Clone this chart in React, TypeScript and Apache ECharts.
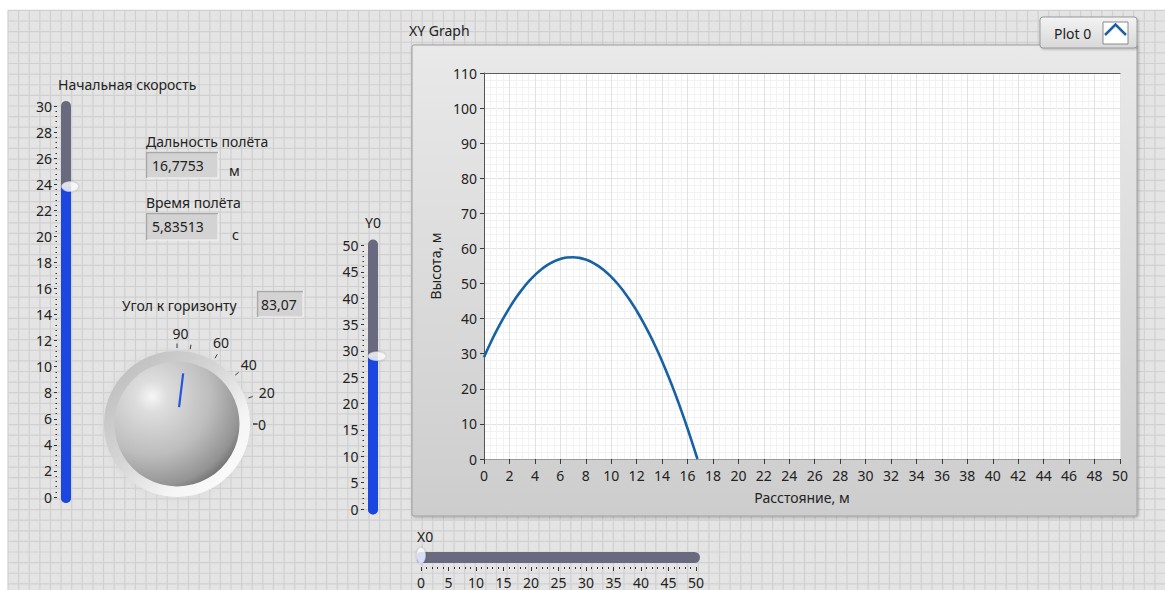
import React, { useEffect, useRef } from "react";
import * as echarts from "echarts";

// ---------------- data ----------------
const distanceM = [
  0, 0.5, 1, 1.5, 2, 2.5, 3, 3.5, 4, 4.5, 5, 5.5, 6, 6.5, 7, 7.5, 8, 8.5, 9, 9.5,
  10, 10.5, 11, 11.5, 12, 12.5, 13, 13.5, 14, 14.5, 15, 15.5, 16, 16.5, 16.78,
];
const heightM = [
  29.0, 32.97, 36.63, 40.0, 43.08, 45.86, 48.34, 50.52, 52.41, 54.0, 55.3, 56.29,
  57.0, 57.4, 57.51, 57.32, 56.83, 56.05, 54.97, 53.59, 51.92, 49.95, 47.68, 45.12,
  42.26, 39.1, 35.65, 31.9, 27.85, 23.51, 18.87, 13.93, 8.7, 3.16, 0,
];
const plotName = "Plot 0";
const initialSpeed = [23.82];
const startHeight = [29.0];
const startX = [0];
const launchAngle = [83.07];
const rangeText = "16,7753";
const timeText = "5,83513";
const angleText = "83,07";
const speedCategory = ["v0"];
const y0Category = ["Y0"];
const x0Category = ["X0"];

// ---------------- styling ----------------
const FONT = '"Noto Sans", "Open Sans", sans-serif';
const TXT = "#222222";
const BLUE = "#1c46e0";
const TRACK = "#69697f";
const STEP = 10.62;

function txt(text: string, x: number, y: number, extra: any = {}) {
  return {
    type: "text",
    x,
    y,
    z: -5,
    silent: true,
    style: {
      text,
      fill: TXT,
      fontSize: 14,
      fontFamily: FONT,
      verticalAlign: "middle",
      align: "left",
      ...extra,
    },
  };
}

function numBox(x: number, y: number, w: number, h: number) {
  return [
    {
      type: "rect",
      z: -6,
      silent: true,
      shape: { x, y, width: w, height: h },
      style: { fill: "#d3d3d3", stroke: "#f4f4f4", lineWidth: 1 },
    },
    {
      type: "polyline",
      z: -6,
      silent: true,
      shape: { points: [[x + 0.5, y + h], [x + 0.5, y + 0.5], [x + w, y + 0.5]] },
      style: { stroke: "#a9a9a9", lineWidth: 1.5, fill: null },
    },
  ];
}

function buildGraphic() {
  const els: any[] = [];
  els.push({
    type: "rect",
    z: -30,
    silent: true,
    shape: { x: 8, y: 10, width: 1157, height: 580 },
    style: { fill: "#e4e4e4" },
  });
  for (let x = 8; x < 1165; x += STEP) {
    els.push({
      type: "line",
      z: -29,
      silent: true,
      shape: { x1: x, y1: 10, x2: x, y2: 590 },
      style: { stroke: "#d0d0d0", lineWidth: 1.2 },
    });
  }
  for (let y = 10.4; y < 590; y += STEP) {
    els.push({
      type: "line",
      z: -29,
      silent: true,
      shape: { x1: 8, y1: y, x2: 1165, y2: y },
      style: { stroke: "#d0d0d0", lineWidth: 1.2 },
    });
  }
  // XY graph frame
  els.push({
    type: "rect",
    z: -10,
    silent: true,
    shape: { x: 412, y: 45, width: 725, height: 471, r: 2 },
    style: {
      fill: new echarts.graphic.LinearGradient(0, 0, 0, 1, [
        { offset: 0, color: "#e9e9e9" },
        { offset: 1, color: "#cdcdcd" },
      ]),
      stroke: "#a0a0a0",
      lineWidth: 1,
      shadowBlur: 3,
      shadowOffsetX: 1,
      shadowOffsetY: 1,
      shadowColor: "rgba(0,0,0,0.3)",
    },
  });
  // legend box
  els.push({
    type: "rect",
    z: -9,
    silent: true,
    shape: { x: 1040, y: 17, width: 97, height: 31, r: 3 },
    style: {
      fill: new echarts.graphic.LinearGradient(0, 0, 0, 1, [
        { offset: 0, color: "#f3f3f3" },
        { offset: 1, color: "#d8d8d8" },
      ]),
      stroke: "#9a9a9a",
      lineWidth: 1,
      shadowBlur: 2,
      shadowOffsetX: 1,
      shadowOffsetY: 1,
      shadowColor: "rgba(0,0,0,0.25)",
    },
  });
  els.push({
    type: "rect",
    z: -8,
    silent: true,
    shape: { x: 1103, y: 22, width: 25, height: 22 },
    style: { fill: "#ffffff", stroke: "#8a8a8a", lineWidth: 1 },
  });
  els.push({
    type: "polyline",
    z: -7,
    silent: true,
    shape: { points: [[1105, 35], [1115.5, 24.5], [1126, 35]] },
    style: { stroke: "#1d5fa8", lineWidth: 2.5, fill: null },
  });
  els.push(txt(plotName, 1054, 33));
  els.push(txt("XY Graph", 409, 30));

  // labels & numeric indicators
  els.push(txt("Начальная скорость", 58, 84));
  els.push(txt("Дальность полёта", 146, 141));
  els.push(...numBox(146, 152, 72, 26));
  els.push(txt(rangeText, 152, 165));
  els.push(txt("м", 229, 170));
  els.push(txt("Время полёта", 146, 202));
  els.push(...numBox(146, 213, 72, 27));
  els.push(txt(timeText, 152, 226));
  els.push(txt("с", 232, 234));
  els.push(txt("Угол к горизонту", 122, 305));
  els.push(...numBox(257, 291, 46, 26));
  els.push(txt(angleText, 261, 304));
  els.push(txt("Y0", 365, 222));
  els.push(txt("X0", 417, 536));

  // slider tracks
  els.push({
    type: "rect", z: -6, silent: true,
    shape: { x: 61, y: 101, width: 10, height: 402, r: 5 },
    style: { fill: TRACK },
  });
  els.push({
    type: "rect", z: -5, silent: true,
    shape: { x: 61, y: 490, width: 10, height: 13, r: 5 },
    style: { fill: BLUE },
  });
  els.push({
    type: "rect", z: -6, silent: true,
    shape: { x: 368, y: 239.5, width: 10, height: 275, r: 5 },
    style: { fill: TRACK },
  });
  els.push({
    type: "rect", z: -5, silent: true,
    shape: { x: 368, y: 501, width: 10, height: 13.5, r: 5 },
    style: { fill: BLUE },
  });
  els.push({
    type: "rect", z: -6, silent: true,
    shape: { x: 417, y: 552, width: 283, height: 11, r: 5.5 },
    style: { fill: TRACK },
  });
  els.push({
    type: "rect", z: -5, silent: true,
    shape: { x: 417, y: 552, width: 8, height: 11, r: 5.5 },
    style: { fill: BLUE },
  });

  // knob halo and sphere
  els.push({
    type: "circle", z: -7, silent: true,
    shape: { cx: 177, cy: 424, r: 73 },
    style: {
      fill: new echarts.graphic.LinearGradient(0, 0, 1, 1, [
        { offset: 0, color: "#b8b8b8" },
        { offset: 0.45, color: "#d6d6d6" },
        { offset: 0.7, color: "#f4f4f4" },
        { offset: 1, color: "#ffffff" },
      ]),
      shadowBlur: 12,
      shadowColor: "rgba(215,215,215,0.95)",
    },
  });
  els.push({
    type: "circle", z: -6, silent: true,
    shape: { cx: 177, cy: 424, r: 62.5 },
    style: {
      fill: new echarts.graphic.RadialGradient(0.3, 0.28, 0.85, [
        { offset: 0, color: "#f6f6f6" },
        { offset: 0.15, color: "#dddddd" },
        { offset: 0.55, color: "#bdbdbd" },
        { offset: 0.85, color: "#939393" },
        { offset: 1, color: "#5e5e5e" },
      ]),
    },
  });
  return els;
}

const axisText = { color: TXT, fontSize: 14, fontFamily: FONT };

function buildOption(): any {
  const xyData = distanceM.map((d, i) => [d, heightM[i]]);
  const richBase = { fontSize: 14, fontFamily: FONT, color: TXT };
  return {
    animation: false,
    backgroundColor: "#ffffff",
    graphic: { elements: buildGraphic() },
    grid: [
      { left: 484, top: 73, width: 636, height: 386, show: true, backgroundColor: "#ffffff", borderWidth: 0 },
      { left: 61, top: 106, width: 10, height: 391 },
      { left: 368, top: 245.5, width: 10, height: 263.5 },
      { left: 421, top: 552, width: 275, height: 11 },
    ],
    xAxis: [
      {
        gridIndex: 0, type: "value", min: 0, max: 50, interval: 2,
        name: "Расстояние, м", nameLocation: "middle", nameGap: 31,
        nameTextStyle: { ...axisText },
        axisLine: { show: true, lineStyle: { color: "#9a9a9a" } },
        axisTick: { show: true, length: 5, lineStyle: { color: "#3a3a3a" } },
        axisLabel: { ...axisText, margin: 9 },
        splitLine: { show: true, lineStyle: { color: "#e2e2e2" } },
        minorTick: { show: false, splitNumber: 4 },
        minorSplitLine: { show: true, lineStyle: { color: "#f2f2f2" } },
      },
      {
        gridIndex: 0, type: "value", position: "top", min: 0, max: 50,
        axisLine: { show: true, lineStyle: { color: "#5a5a5a" } },
        axisTick: { show: false }, axisLabel: { show: false }, splitLine: { show: false },
      },
      { gridIndex: 1, type: "category", data: speedCategory, show: false },
      { gridIndex: 2, type: "category", data: y0Category, show: false },
      {
        gridIndex: 3, type: "value", min: 0, max: 50, interval: 5, position: "bottom", offset: 4,
        axisLine: { show: false },
        axisTick: { show: true, length: 4, lineStyle: { color: "#333" } },
        minorTick: { show: true, splitNumber: 5, length: 2, lineStyle: { color: "#333" } },
        axisLabel: { ...axisText, margin: 8 },
        splitLine: { show: false },
      },
    ],
    yAxis: [
      {
        gridIndex: 0, type: "value", min: 0, max: 110, interval: 10,
        name: "Высота, м", nameLocation: "middle", nameGap: 37, nameRotate: 90,
        nameTextStyle: { ...axisText },
        axisLine: { show: true, lineStyle: { color: "#555555" } },
        axisTick: { show: true, length: 4, lineStyle: { color: "#3a3a3a" } },
        axisLabel: { ...axisText, margin: 7 },
        splitLine: { show: true, lineStyle: { color: "#e2e2e2" } },
        minorTick: { show: false, splitNumber: 5 },
        minorSplitLine: { show: true, lineStyle: { color: "#f2f2f2" } },
      },
      {
        gridIndex: 1, type: "value", min: 0, max: 30, interval: 2, offset: 4,
        axisLine: { show: false },
        axisTick: { show: true, length: 3, lineStyle: { color: "#333" } },
        minorTick: { show: true, splitNumber: 5, length: 1.5, lineStyle: { color: "#333" } },
        axisLabel: { ...axisText, margin: 5 },
        splitLine: { show: false },
      },
      {
        gridIndex: 2, type: "value", min: 0, max: 50, interval: 5, offset: 4,
        axisLine: { show: false },
        axisTick: { show: true, length: 3, lineStyle: { color: "#333" } },
        minorTick: { show: true, splitNumber: 5, length: 1.5, lineStyle: { color: "#333" } },
        axisLabel: { ...axisText, margin: 5.5 },
        splitLine: { show: false },
      },
      { gridIndex: 3, type: "category", data: x0Category, show: false },
    ],
    series: [
      {
        name: plotName, type: "line", xAxisIndex: 0, yAxisIndex: 0, data: xyData,
        showSymbol: false, smooth: true,
        lineStyle: { color: "#1662a4", width: 2.6 },
        itemStyle: { color: "#1662a4" },
      },
      {
        type: "bar", xAxisIndex: 2, yAxisIndex: 1, data: initialSpeed, barWidth: 10,
        itemStyle: { color: BLUE },
      },
      {
        type: "scatter", xAxisIndex: 2, yAxisIndex: 1, data: initialSpeed, z: 4,
        symbol: "circle", symbolSize: [17, 10], symbolOffset: [4, 0],
        itemStyle: { color: "#ffffff", borderColor: "#c4c4c4", borderWidth: 0.6, shadowBlur: 2, shadowColor: "rgba(0,0,0,0.25)" },
      },
      {
        type: "bar", xAxisIndex: 3, yAxisIndex: 2, data: startHeight, barWidth: 10,
        itemStyle: { color: BLUE },
      },
      {
        type: "scatter", xAxisIndex: 3, yAxisIndex: 2, data: startHeight, z: 4,
        symbol: "circle", symbolSize: [18, 9], symbolOffset: [4, 0],
        itemStyle: { color: "#ffffff", borderColor: "#c4c4c4", borderWidth: 0.6, shadowBlur: 2, shadowColor: "rgba(0,0,0,0.25)" },
      },
      {
        type: "bar", xAxisIndex: 4, yAxisIndex: 3, data: startX, barWidth: 11,
        itemStyle: { color: BLUE },
      },
      {
        type: "scatter", xAxisIndex: 4, yAxisIndex: 3, data: startX.map((v) => [v, 0]), z: 4,
        symbol: "circle", symbolSize: [9, 16], symbolOffset: [0, -2],
        itemStyle: { color: "#ffffff", borderColor: "#c4c4c4", borderWidth: 0.6, shadowBlur: 2, shadowColor: "rgba(0,0,0,0.25)" },
      },
      {
        type: "gauge", center: [177, 424], radius: 80.5,
        startAngle: 0, endAngle: 80, clockwise: false, min: 0, max: 80, splitNumber: 4,
        axisLine: { show: false, lineStyle: { width: 0 } },
        progress: { show: false }, pointer: { show: false }, anchor: { show: false },
        axisTick: { show: false },
        splitLine: { show: true, length: 4.5, distance: 0, lineStyle: { color: "#3a3a3a", width: 1 } },
        axisLabel: {
          distance: -28, ...axisText,
          formatter: (v: number) =>
            v === 0 ? "{z|0}" : v === 20 ? "{a|20}" : v === 40 ? "{b|40}" : v === 60 ? "{c|60}" : "",
          rich: {
            z: { ...richBase, padding: [0, 15, 0, 0] },
            a: { ...richBase, padding: [8, 0, 0, 0] },
            b: { ...richBase, padding: [14, 0, 0, 0] },
            c: { ...richBase, padding: [2, 0, 0, 10] },
          },
        },
        title: { show: false }, detail: { show: false },
        data: [{ value: 0 }],
      },
      {
        type: "gauge", center: [177, 424], radius: 80.5,
        startAngle: 0, endAngle: 90, clockwise: false, min: 0, max: 90, splitNumber: 1,
        axisLine: { show: false, lineStyle: { width: 0 } },
        progress: { show: false }, anchor: { show: false },
        axisTick: { show: false },
        splitLine: { show: true, length: 4.5, distance: 0, lineStyle: { color: "#3a3a3a", width: 1 } },
        axisLabel: {
          distance: -22, ...axisText,
          formatter: (v: number) => (v === 90 ? "{n|90}" : ""),
          rich: { n: { ...richBase, padding: [0, 0, 0, 7] } },
        },
        pointer: {
          show: true,
          icon: "path://M4,0 L6,0 L6,34 L4,34 Z M5,51 L5.01,51 L5,51.01 Z",
          length: 51, width: 2.2,
          itemStyle: { color: "#2456e0" },
        },
        title: { show: false }, detail: { show: false },
        data: [{ value: launchAngle[0], name: "Угол к горизонту" }],
      },
    ],
  };
}

export default function App() {
  const ref = useRef<HTMLDivElement>(null);
  useEffect(() => {
    if (!ref.current) return;
    const chart = echarts.init(ref.current, null, { renderer: "svg" });
    chart.setOption(buildOption());
    return () => chart.dispose();
  }, []);
  return (
    <div
      ref={ref}
      style={{ position: "absolute", left: 0, top: 0, width: 1165, height: 590, background: "#ffffff" }}
    />
  );
}
